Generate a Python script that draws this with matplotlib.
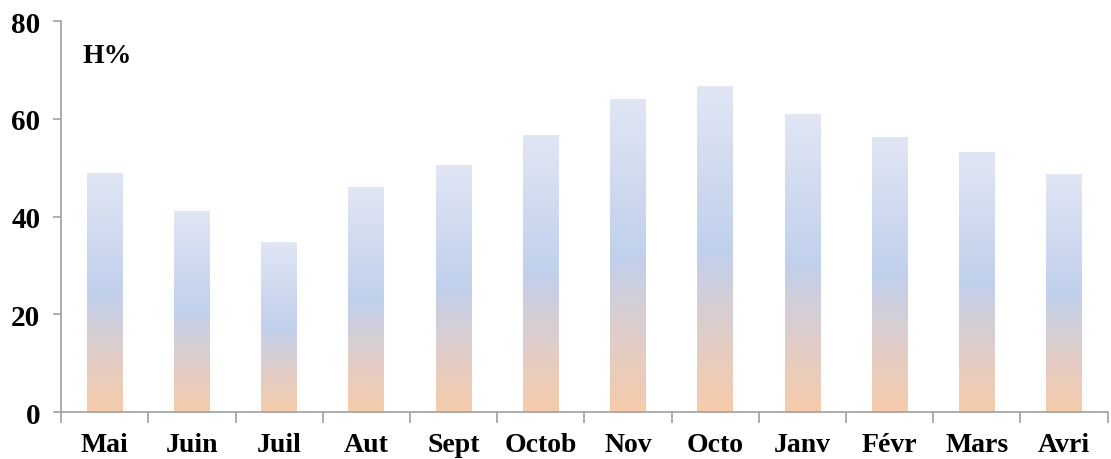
import numpy as np
import matplotlib
matplotlib.use('Agg')
import matplotlib.pyplot as plt
from matplotlib.colors import LinearSegmentedColormap

months = ['Mai', 'Juin', 'Juil', 'Aut', 'Sept', 'Octob', 'Nov', 'Octo', 'Janv', 'Févr', 'Mars', 'Avri']
humidity = [48.9, 41.1, 34.6, 46.0, 50.5, 56.5, 64.0, 66.5, 60.8, 56.1, 53.0, 48.5]

plt.rcParams['font.family'] = ['Liberation Serif', 'DejaVu Serif']
plt.rcParams['font.weight'] = 'bold'

# orange at the base, blue in the middle, pale at the top of each bar
grad = LinearSegmentedColormap.from_list('bar', [
    (0.0, '#f6cbaa'),
    (0.22, '#e2cdc6'),
    (0.5, '#c1d0ec'),
    (1.0, '#e1e6f4'),
])

fig = plt.figure(figsize=(11.11, 4.6), dpi=100)
ax = fig.add_axes([0.055, 0.102, 0.942, 0.85])

width = 0.41
g = np.linspace(0, 1, 256).reshape(-1, 1)
for i, v in enumerate(humidity):
    ax.imshow(g, cmap=grad, origin='lower', aspect='auto',
              extent=(i - width / 2, i + width / 2, 0, v), interpolation='bilinear')

ax.set_xlim(-0.5, len(months) - 0.5)
ax.set_ylim(0, 80)
ax.set_yticks([0, 20, 40, 60, 80])
ax.set_xticks(range(len(months)))
ax.set_xticklabels(months)
ax.set_xticks(np.arange(-0.5, len(months)), minor=True)
ax.tick_params(axis='x', which='major', length=0, pad=14, labelsize=20)
ax.tick_params(axis='x', which='minor', length=8, color='#a0a0a0', width=1.2)
ax.tick_params(axis='y', length=6, color='#a0a0a0', width=1.2, labelsize=21, pad=9)

for s in ['top', 'right']:
    ax.spines[s].set_visible(False)
for s in ['left', 'bottom']:
    ax.spines[s].set_color('#a0a0a0')
    ax.spines[s].set_linewidth(1.2)

ax.text(0.02, 0.945, 'H%', transform=ax.transAxes, fontsize=20, fontweight='bold', va='top')

fig.savefig('out.png', dpi=100)
